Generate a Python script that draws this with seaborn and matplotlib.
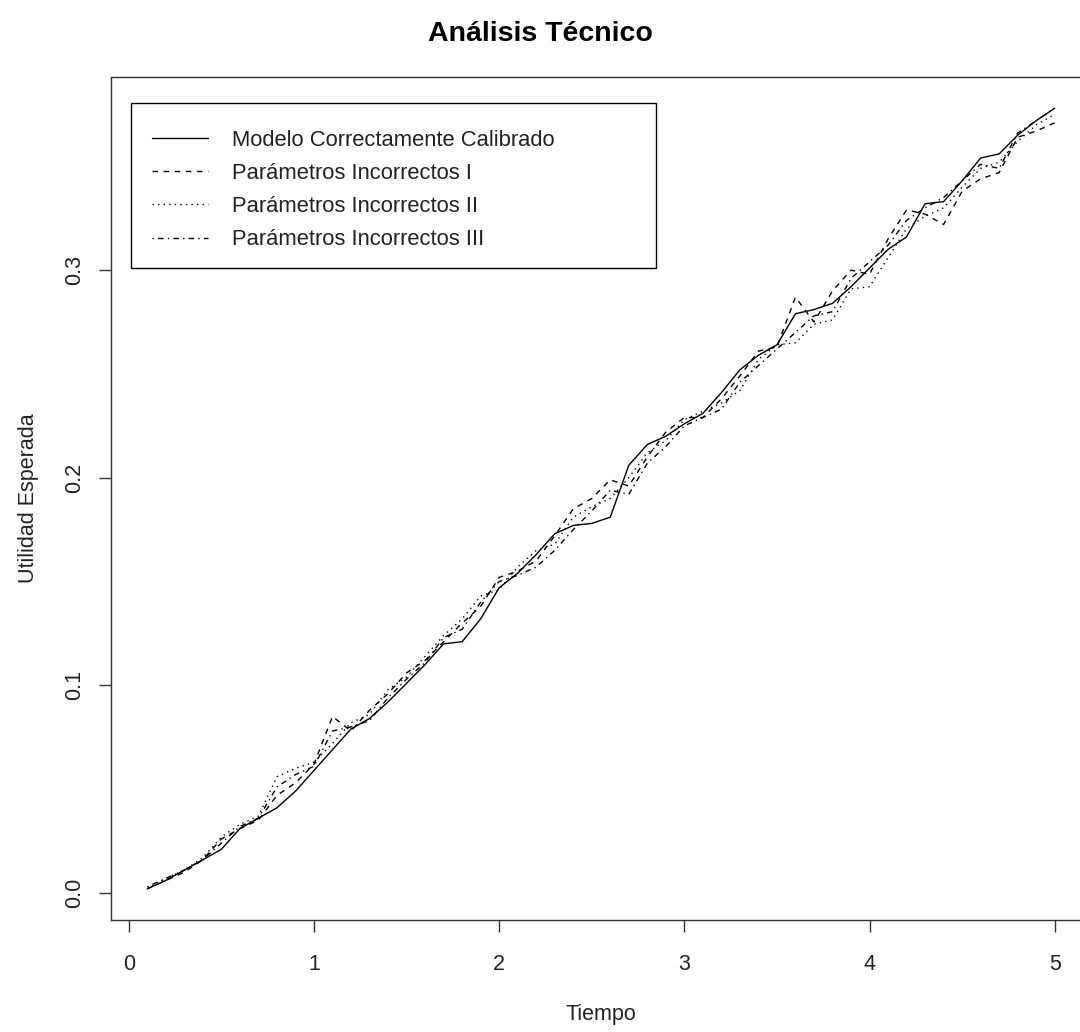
import numpy as np
import pandas as pd
import matplotlib
matplotlib.use("Agg")
import matplotlib.pyplot as plt
from matplotlib.patches import Rectangle
import seaborn as sns

# --- data ---
tiempo = np.round(np.arange(1, 51) * 0.1, 1)

modelo_correcto = [
    0.002, 0.006, 0.011, 0.016, 0.021, 0.031, 0.036, 0.041, 0.049, 0.059,
    0.069, 0.079, 0.084, 0.092, 0.101, 0.110, 0.120, 0.121, 0.132, 0.147,
    0.154, 0.163, 0.173, 0.177, 0.178, 0.181, 0.206, 0.216, 0.220, 0.226,
    0.231, 0.241, 0.252, 0.259, 0.264, 0.279, 0.281, 0.284, 0.292, 0.301,
    0.310, 0.316, 0.332, 0.333, 0.343, 0.354, 0.356, 0.365, 0.372, 0.378,
]
param_incorrectos_1 = [
    0.002, 0.006, 0.010, 0.016, 0.026, 0.031, 0.035, 0.047, 0.053, 0.062,
    0.085, 0.078, 0.088, 0.096, 0.106, 0.112, 0.121, 0.130, 0.138, 0.152,
    0.155, 0.160, 0.172, 0.185, 0.190, 0.199, 0.196, 0.210, 0.222, 0.229,
    0.229, 0.238, 0.249, 0.261, 0.263, 0.287, 0.275, 0.290, 0.300, 0.298,
    0.315, 0.329, 0.327, 0.322, 0.338, 0.344, 0.347, 0.364, 0.367, 0.371,
]
param_incorrectos_2 = [
    0.002, 0.007, 0.011, 0.017, 0.027, 0.033, 0.037, 0.056, 0.060, 0.063,
    0.072, 0.082, 0.086, 0.098, 0.104, 0.114, 0.124, 0.132, 0.143, 0.146,
    0.157, 0.165, 0.168, 0.181, 0.186, 0.190, 0.200, 0.212, 0.218, 0.228,
    0.232, 0.236, 0.242, 0.257, 0.264, 0.265, 0.274, 0.276, 0.291, 0.292,
    0.306, 0.320, 0.326, 0.330, 0.340, 0.349, 0.352, 0.362, 0.370, 0.375,
]
param_incorrectos_3 = [
    0.003, 0.007, 0.011, 0.016, 0.024, 0.032, 0.036, 0.051, 0.057, 0.061,
    0.078, 0.080, 0.083, 0.094, 0.103, 0.111, 0.123, 0.127, 0.140, 0.150,
    0.153, 0.157, 0.165, 0.175, 0.184, 0.194, 0.192, 0.207, 0.215, 0.225,
    0.229, 0.233, 0.246, 0.254, 0.262, 0.270, 0.278, 0.280, 0.296, 0.304,
    0.312, 0.324, 0.330, 0.335, 0.343, 0.351, 0.349, 0.366, 0.372, 0.378,
]

series_names = [
    "Modelo Correctamente Calibrado",
    "Parámetros Incorrectos I",
    "Parámetros Incorrectos II",
    "Parámetros Incorrectos III",
]
x_ticks = [0, 1, 2, 3, 4, 5]
y_ticks = [0.0, 0.1, 0.2, 0.3]

# long table for seaborn
frames = []
for name, vals in zip(series_names, [modelo_correcto, param_incorrectos_1,
                                     param_incorrectos_2, param_incorrectos_3]):
    frames.append(pd.DataFrame({"Tiempo": tiempo, "Utilidad": vals, "Serie": name}))
df = pd.concat(frames, ignore_index=True)

sns.set_theme(style="white")
plt.rcParams["font.family"] = ["Liberation Sans", "DejaVu Sans"]

FS = 15.5
TXT = "#222222"

fig = plt.figure(figsize=(10.8, 10.32), dpi=100)
# plot region runs a little past the right edge, as in the reference
ax = fig.add_axes([111 / 1080, 112 / 1032, 980 / 1080, 843 / 1032])

dash_map = {
    series_names[0]: "",
    series_names[1]: (4, 4),
    series_names[2]: (1, 3),
    series_names[3]: (1, 3, 4, 3),
}
sns.lineplot(data=df, x="Tiempo", y="Utilidad", style="Serie",
             dashes=dash_map, color="black", linewidth=1.0, ax=ax,
             legend=False)

# R-style axis limits (4% padding)
xr = tiempo.max() - tiempo.min()
ax.set_xlim(tiempo.min() - 0.04 * xr, tiempo.max() + 0.04 * xr)
allv = df["Utilidad"]
yr = allv.max() - allv.min()
ax.set_ylim(allv.min() - 0.04 * yr, allv.max() + 0.04 * yr)

ax.set_xticks(x_ticks)
ax.set_yticks(y_ticks)
ax.set_xticklabels([str(t) for t in x_ticks])
ax.set_yticklabels([f"{t:.1f}" for t in y_ticks], rotation=90, va="center")
ax.tick_params(axis="both", direction="out", length=8.5, width=1,
               color="#333333", labelsize=FS, labelcolor=TXT,
               bottom=True, left=True)
ax.tick_params(axis="x", pad=16)
ax.tick_params(axis="y", pad=10)
for sp in ax.spines.values():
    sp.set_color("#333333")
    sp.set_linewidth(1.0)

ax.set_xlabel("Tiempo", fontsize=FS, color=TXT, labelpad=21)
ax.set_ylabel("Utilidad Esperada", fontsize=FS, color=TXT, labelpad=18)
fig.text(0.5, 1 - 34 / 1032, "Análisis Técnico", ha="center", va="center",
         fontsize=20.5, fontweight="bold", color="black")

# R legend(): box drawn separately so it keeps the wide right margin
ax.add_patch(Rectangle((20 / 980, (920 - 268) / 843), 525 / 980, 165 / 843,
                       transform=ax.transAxes, fill=False, edgecolor="black",
                       linewidth=1.0, zorder=5))
handles = []
for name in series_names:
    d = dash_map[name]
    ls = "-" if d == "" else (0, d)
    handles.append(plt.Line2D([], [], color="black", lw=1.0, linestyle=ls))
leg = ax.legend(handles, series_names, loc="upper left",
                bbox_to_anchor=(41 / 980, (920 - 130) / 843), fontsize=15.8,
                frameon=False, handlelength=2.55, handletextpad=1.1,
                labelspacing=0.55, borderpad=0, borderaxespad=0)
for t in leg.get_texts():
    t.set_color(TXT)

fig.savefig("out.png", dpi=100)
